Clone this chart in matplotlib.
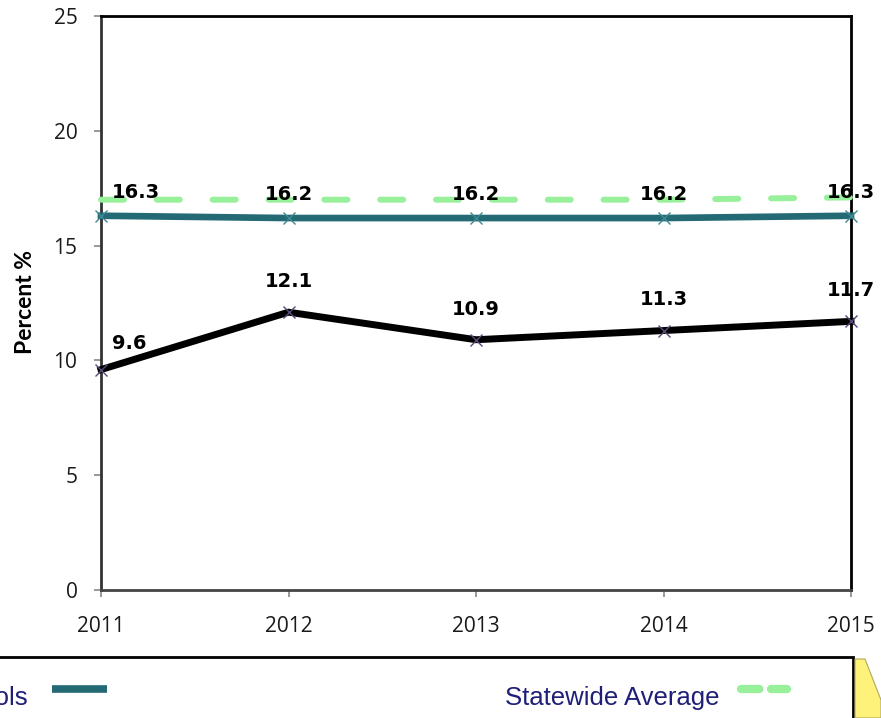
import matplotlib
matplotlib.use("Agg")
import matplotlib.pyplot as plt
from matplotlib.lines import Line2D
from matplotlib.patches import Rectangle, Polygon

# values
YEARS = [2011, 2012, 2013, 2014, 2015]
SCHOOLS = [16.3, 16.2, 16.2, 16.2, 16.3]
STATEWIDE = [17.0, 17.0, 17.0, 17.0, 17.1]
DISTRICT = [9.6, 12.1, 10.9, 11.3, 11.7]
Y_TICKS = [0, 5, 10, 15, 20, 25]

TEAL = "#236a74"
GREEN = "#98f09a"
NAVY = "#1f1f78"

W, H = 881, 718


def fx(px):
    return px / W


def fy(py):
    return 1 - py / H


fig = plt.figure(figsize=(W / 100, H / 100), dpi=100)
ax = fig.add_axes([fx(101), fy(590), fx(851) - fx(101), fy(16) - fy(590)])

ax.plot(YEARS, STATEWIDE, color=GREEN, linewidth=4.3, dashes=(3.85, 5.5),
        dash_capstyle="round", clip_on=False, zorder=3)
ax.plot(YEARS, SCHOOLS, color=TEAL, linewidth=4.8, marker="x", markersize=9,
        markeredgecolor="#3f8a92", markeredgewidth=1.0, clip_on=False, zorder=4)
ax.plot(YEARS, DISTRICT, color="black", linewidth=5, marker="x", markersize=9,
        markeredgecolor="#5a4a7a", markeredgewidth=1.0, clip_on=False, zorder=4,
        solid_joinstyle="miter")

label_font = dict(fontsize=14, fontweight="bold", family="DejaVu Sans", color="black")
for i, (x, v) in enumerate(zip(YEARS, SCHOOLS)):
    if i == 0:
        ax.annotate(f"{v:.1f}", (x, v), xytext=(8, 17), textcoords="offset points",
                    ha="left", va="center", zorder=6, annotation_clip=False, **label_font)
    else:
        ax.annotate(f"{v:.1f}", (x, v), xytext=(0, 17), textcoords="offset points",
                    ha="center", va="center", zorder=6, annotation_clip=False, **label_font)
for i, (x, v) in enumerate(zip(YEARS, DISTRICT)):
    if i == 0:
        ax.annotate(f"{v:.1f}", (x, v), xytext=(8, 19), textcoords="offset points",
                    ha="left", va="center", zorder=6, annotation_clip=False, **label_font)
    else:
        ax.annotate(f"{v:.1f}", (x, v), xytext=(0, 22), textcoords="offset points",
                    ha="center", va="center", zorder=6, annotation_clip=False, **label_font)

ax.set_xlim(YEARS[0], YEARS[-1])
ax.set_ylim(Y_TICKS[0], Y_TICKS[-1])
ax.set_xticks(YEARS)
ax.set_xticklabels([str(y) for y in YEARS])
ax.set_yticks(Y_TICKS)
ax.tick_params(axis="both", direction="out", length=5, width=1.2, color="#888888",
               labelsize=15, labelcolor="#1a1a1a")
ax.tick_params(axis="x", pad=14)
ax.tick_params(axis="y", pad=12)
for lab in ax.get_xticklabels() + ax.get_yticklabels():
    lab.set_family("Open Sans")

for side in ["top", "right", "left", "bottom"]:
    ax.spines[side].set_color("black")
    ax.spines[side].set_linewidth(2)
ax.spines["left"].set_color("#333333")
ax.spines["bottom"].set_color("#444444")

fig.text(fx(26), fy(302), "Percent %", rotation=90, ha="center", va="center",
         fontsize=16.5, fontweight="bold", family="Lato", color="black")

# legend box, partly cut off at the left edge as in the original
fig.add_artist(Rectangle((fx(-10), fy(730)), fx(853) - fx(-10), fy(657) - fy(730),
                         transform=fig.transFigure, facecolor="white",
                         edgecolor="black", linewidth=2))
fig.text(fx(28), fy(705), "Schools", ha="right", va="baseline", fontsize=18.5,
         family="Liberation Sans", color=NAVY)
fig.add_artist(Line2D([fx(52), fx(107)], [fy(689), fy(689)], transform=fig.transFigure,
                      color=TEAL, linewidth=5.5, solid_capstyle="butt"))
fig.text(fx(505), fy(705), "Statewide Average", ha="left", va="baseline", fontsize=18.5,
         family="Liberation Sans", color=NAVY)
fig.add_artist(Line2D([fx(741), fx(787)], [fy(689), fy(689)], transform=fig.transFigure,
                      color=GREEN, linewidth=6, dashes=(2.2, 1.4), dash_capstyle="round"))

# yellow shape at the bottom right corner
fig.add_artist(Polygon([(fx(855), fy(659)), (fx(865), fy(659)), (fx(881), fy(700)),
                        (fx(881), fy(718)), (fx(855), fy(718))], closed=True,
                       transform=fig.transFigure, facecolor="#fff27a",
                       edgecolor="#b0a860", linewidth=0.8))

fig.savefig("out.png", dpi=100)
